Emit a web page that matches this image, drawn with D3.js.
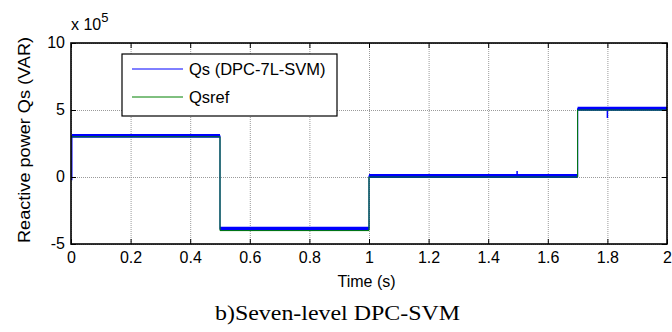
<!DOCTYPE html>
<html>
<head>
<meta charset="utf-8">
<script src="https://cdn.jsdelivr.net/npm/d3@7"></script>
<style>
    body { margin: 0; background: #fff; }
    svg { display: block; }
</style>
</head>
<body>
<div id="qs-chart"></div>
<script>
// reference reactive power, step instants (s) and levels (x 10^5 VAR)
var refTimes = [0, 0.5, 1, 1.7, 2];
var refValues = [3, -4, 0, 5, 5];

// measured Qs, mean level of each step
var qsTimes = [0, 0.003, 0.5, 1, 1.7, 2];
var qsValues = [-0.2, 3.05, -3.87, 0.06, 5.09, 5.09];

// ripple band of Qs around each level
var bandTimes = [0.003, 0.5, 1, 1.7, 2];
var bandLow = [2.93, -4.03, -0.07, 4.95, 4.95];
var bandHigh = [3.2, -3.72, 0.22, 5.25, 5.25];

// isolated spikes of Qs
var spikeTimes = [1.497, 1.8];
var spikeFrom = [0.06, 5.09];
var spikeTo = [0.45, 4.4];

var xTicks = [0, 0.2, 0.4, 0.6, 0.8, 1, 1.2, 1.4, 1.6, 1.8, 2];
var xTickLabels = ["0", "0.2", "0.4", "0.6", "0.8", "1", "1.2", "1.4", "1.6", "1.8", "2"];
var yTicks = [-5, 0, 5, 10];
var yTickLabels = ["-5", "0", "5", "10"];

var seriesNames = ["Qs (DPC-7L-SVM)", "Qsref"];

/**
 * Constructor for the QsChart
 */
function QsChart() {
    var self = this;
    self.init();
}

/**
 * Builds the svg, axes, grid, series and legend
 */
QsChart.prototype.init = function () {
    var self = this;
    self.margin = {top: 43, left: 71};
    self.width = 596;
    self.height = 201;
    self.font = "'Liberation Sans', Arial, Helvetica, sans-serif";

    self.svg = d3.select("#qs-chart").append("svg")
        .attr("width", 672)
        .attr("height", 332)
        .style("background", "#fff");

    self.xScale = d3.scaleLinear().domain([0, 2]).range([0, self.width]);
    self.yScale = d3.scaleLinear().domain([-5, 10]).range([self.height, 0]);

    var g = self.svg.append("g")
        .attr("transform", "translate(" + self.margin.left + "," + self.margin.top + ")");

    self.svg.append("defs").append("clipPath").attr("id", "plot-clip")
        .append("rect")
        .attr("width", self.width)
        .attr("height", self.height);

    // dotted grid
    var grid = g.append("g").attr("class", "grid");
    grid.append("g")
        .attr("transform", "translate(0," + self.height + ")")
        .call(d3.axisBottom(self.xScale).tickValues(xTicks).tickSize(-self.height).tickFormat(""));
    grid.append("g")
        .call(d3.axisLeft(self.yScale).tickValues(yTicks).tickSize(-self.width).tickFormat(""));
    grid.selectAll(".domain").remove();
    grid.selectAll("line")
        .attr("stroke", "#9a9a9a")
        .attr("stroke-dasharray", "1,1");

    // series
    var plot = g.append("g").attr("clip-path", "url(#plot-clip)");
    var x = self.xScale, y = self.yScale;

    var refLine = d3.line()
        .curve(d3.curveStepAfter)
        .x(function (d, i) { return x(refTimes[i]); })
        .y(function (d, i) { return y(refValues[i]); });

    var band = d3.area()
        .curve(d3.curveStepAfter)
        .x(function (d, i) { return x(bandTimes[i]); })
        .y0(function (d, i) { return y(bandLow[i]); })
        .y1(function (d, i) { return y(bandHigh[i]); });
    plot.append("path")
        .datum(bandTimes)
        .attr("d", band)
        .attr("fill", "#0000ff");

    var qsLine = d3.line()
        .curve(d3.curveStepAfter)
        .x(function (d, i) { return x(qsTimes[i]); })
        .y(function (d, i) { return y(qsValues[i]); });
    plot.append("path")
        .datum(qsTimes)
        .attr("d", qsLine)
        .attr("fill", "none")
        .attr("stroke", "#0000ff")
        .attr("stroke-width", 1.2);

    plot.selectAll(".spike")
        .data(spikeTimes)
        .enter().append("line")
        .attr("class", "spike")
        .attr("x1", function (d) { return x(d); })
        .attr("x2", function (d) { return x(d); })
        .attr("y1", function (d, i) { return y(spikeFrom[i]); })
        .attr("y2", function (d, i) { return y(spikeTo[i]); })
        .attr("stroke", "#0000ff")
        .attr("stroke-width", 1.5);

    plot.append("path")
        .datum(refTimes)
        .attr("d", refLine)
        .attr("fill", "none")
        .attr("stroke", "#008000")
        .attr("stroke-width", 1);

    // inward ticks on all four sides
    var xAxis = g.append("g")
        .attr("transform", "translate(0," + self.height + ")")
        .call(d3.axisBottom(x).tickValues(xTicks)
            .tickFormat(function (d, i) { return xTickLabels[i]; })
            .tickSizeInner(-5).tickSizeOuter(0).tickPadding(7.6));
    var yAxis = g.append("g")
        .call(d3.axisLeft(y).tickValues(yTicks)
            .tickFormat(function (d, i) { return yTickLabels[i]; })
            .tickSizeInner(-5).tickSizeOuter(0).tickPadding(6));
    var topAxis = g.append("g")
        .call(d3.axisTop(x).tickValues(xTicks).tickFormat("").tickSizeInner(-5).tickSizeOuter(0));
    var rightAxis = g.append("g")
        .attr("transform", "translate(" + self.width + ",0)")
        .call(d3.axisRight(y).tickValues(yTicks).tickFormat("").tickSizeInner(-5).tickSizeOuter(0));

    [xAxis, yAxis, topAxis, rightAxis].forEach(function (a) {
        a.select(".domain").remove();
        a.attr("color", "#000")
            .attr("font-size", 16)
            .attr("font-family", self.font);
    });
    yAxis.selectAll("text").attr("dy", "0.27em");

    // axes box
    g.append("rect")
        .attr("width", self.width)
        .attr("height", self.height)
        .attr("fill", "none")
        .attr("stroke", "#000")
        .attr("stroke-width", 1.6);

    // exponent label
    var expo = self.svg.append("text")
        .attr("x", 71)
        .attr("y", 30)
        .attr("font-family", self.font)
        .attr("font-size", 16)
        .attr("fill", "#000")
        .text("x 10");
    expo.append("tspan")
        .attr("dy", -8)
        .attr("font-size", 13)
        .text("5");

    // axis titles
    self.svg.append("text")
        .attr("transform", "translate(30,140) rotate(-90)")
        .attr("text-anchor", "middle")
        .attr("font-family", self.font)
        .attr("font-size", 16)
        .attr("textLength", 206)
        .attr("lengthAdjust", "spacingAndGlyphs")
        .text("Reactive power Qs (VAR)");
    self.svg.append("text")
        .attr("x", 366.5)
        .attr("y", 287)
        .attr("text-anchor", "middle")
        .attr("font-family", self.font)
        .attr("font-size", 16)
        .text("Time (s)");

    // caption
    self.svg.append("text")
        .attr("x", 337.5)
        .attr("y", 320)
        .attr("text-anchor", "middle")
        .attr("font-family", "'Liberation Serif', 'Times New Roman', serif")
        .attr("font-size", 20)
        .attr("textLength", 245)
        .attr("lengthAdjust", "spacingAndGlyphs")
        .text("b)Seven-level DPC-SVM");

    self.drawLegend();
};

/**
 * Legend box in the upper left part of the axes
 */
QsChart.prototype.drawLegend = function () {
    var self = this;
    var colors = ["#0000ff", "#008000"];
    var legend = self.svg.append("g").attr("transform", "translate(122,54)");

    legend.append("rect")
        .attr("width", 215)
        .attr("height", 62)
        .attr("fill", "#fff")
        .attr("stroke", "#000")
        .attr("stroke-width", 1.2);

    var rows = legend.selectAll(".row")
        .data(seriesNames)
        .enter().append("g")
        .attr("class", "row")
        .attr("transform", function (d, i) { return "translate(0," + (15 + i * 28) + ")"; });

    rows.append("line")
        .attr("x1", 10)
        .attr("x2", 61)
        .attr("stroke", function (d, i) { return colors[i]; })
        .attr("stroke-width", 1);

    rows.append("text")
        .attr("x", 67)
        .attr("dy", "0.35em")
        .attr("font-family", self.font)
        .attr("font-size", 16.5)
        .text(function (d) { return d; });
};

var chart = new QsChart();
</script>
</body>
</html>
